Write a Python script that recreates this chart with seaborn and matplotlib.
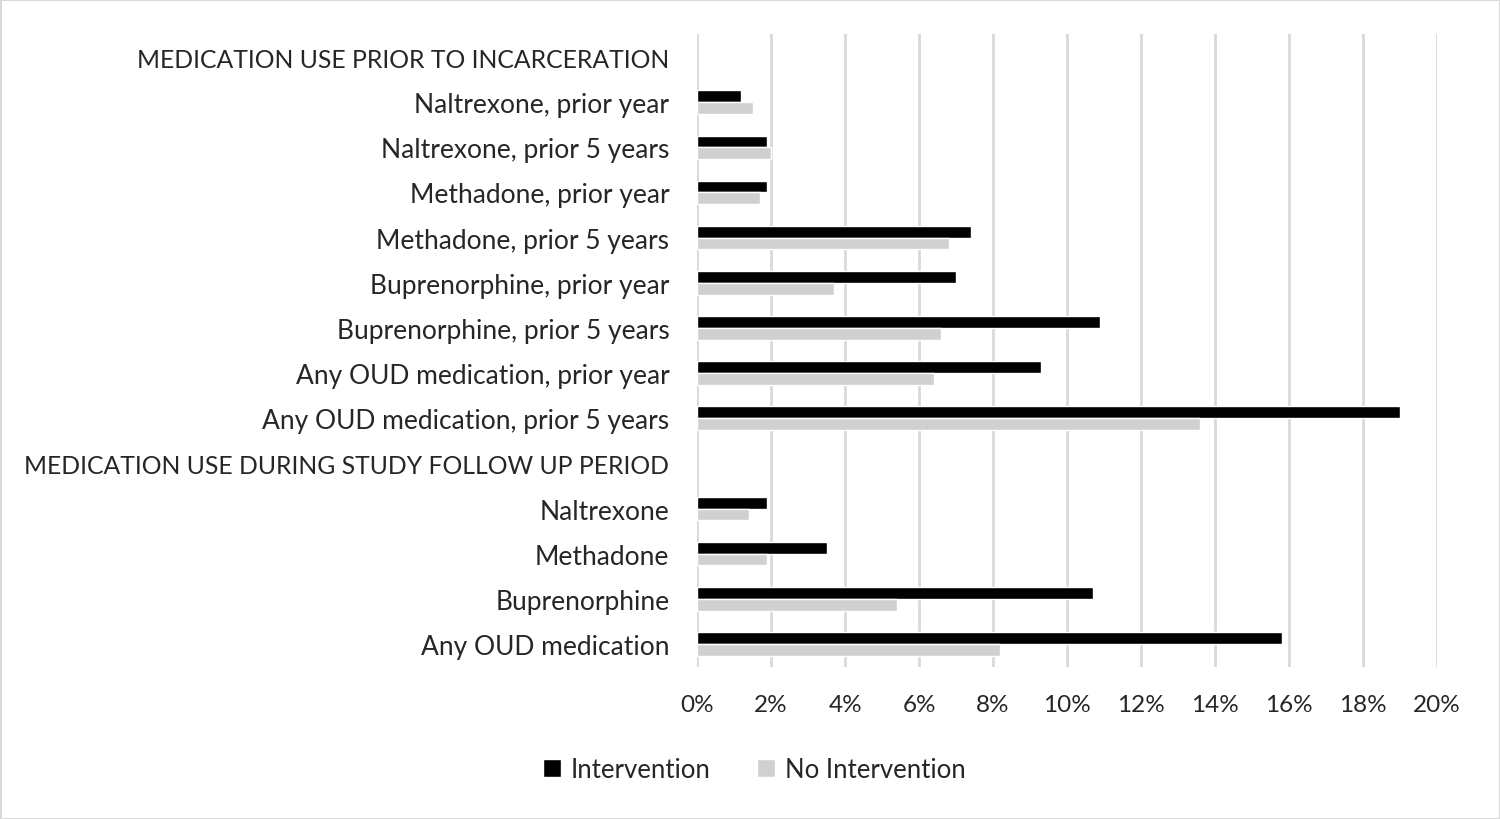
import numpy as np
import pandas as pd
import seaborn as sns
import matplotlib.pyplot as plt
from matplotlib.patches import Patch
from matplotlib.ticker import PercentFormatter

# Categories, top to bottom (headers have no bars)
categories = [
    'MEDICATION USE PRIOR TO INCARCERATION',
    'Naltrexone, prior year',
    'Naltrexone, prior 5 years',
    'Methadone, prior year',
    'Methadone, prior 5 years',
    'Buprenorphine, prior year',
    'Buprenorphine, prior 5 years',
    'Any OUD medication, prior year',
    'Any OUD medication, prior 5 years',
    'MEDICATION USE DURING STUDY FOLLOW UP PERIOD',
    'Naltrexone',
    'Methadone',
    'Buprenorphine',
    'Any OUD medication',
]

# Percent of group
intervention = [np.nan, 1.2, 1.9, 1.9, 7.4, 7.0, 10.9, 9.3, 19.0,
                np.nan, 1.9, 3.5, 10.7, 15.8]
no_intervention = [np.nan, 1.5, 2.0, 1.7, 6.8, 3.7, 6.6, 6.4, 13.6,
                   np.nan, 1.4, 1.9, 5.4, 8.2]

groups = ['Intervention', 'No Intervention']
colors = ['#000000', '#d0d0d0']

df = pd.DataFrame({
    'category': categories * 2,
    'group': [groups[0]] * len(categories) + [groups[1]] * len(categories),
    'value': intervention + no_intervention,
})

sns.set_style('white')
plt.rcParams['font.family'] = ['Lato', 'DejaVu Sans']

fig = plt.figure(figsize=(15, 8.2), dpi=100, edgecolor='#d9d9d9', linewidth=2)
ax = fig.add_axes([0.4647, 0.1859, 0.4933, 0.7709])

sns.barplot(data=df, x='value', y='category', hue='group', order=categories,
            hue_order=groups, palette=colors, width=0.52, ax=ax,
            legend=False, saturation=1)

ax.set_xlim(0, 20)
ax.set_xticks(np.arange(0, 21, 2))
ax.xaxis.set_major_formatter(PercentFormatter(decimals=0))
ax.grid(axis='x', color='#d9d9d9', linewidth=2)
ax.set_axisbelow(True)
for s in ax.spines.values():
    s.set_visible(False)
ax.set_xlabel('')
ax.set_ylabel('')
ax.tick_params(axis='y', length=0, pad=20, labelsize=19)
ax.tick_params(axis='x', length=0, pad=20, labelsize=17.5)

# section headers are uppercase, slightly smaller
for lbl in ax.get_yticklabels():
    if lbl.get_text().isupper():
        lbl.set_fontsize(17.8)

handles = [Patch(facecolor=c, label=g) for g, c in zip(groups, colors)]
fig.legend(handles=handles, loc='center', bbox_to_anchor=(0.503, 0.06),
           ncol=2, frameon=False, fontsize=18.5, handlelength=0.7,
           handleheight=0.7, handletextpad=0.4, columnspacing=1.8)

fig.savefig('out.png', dpi=100)
